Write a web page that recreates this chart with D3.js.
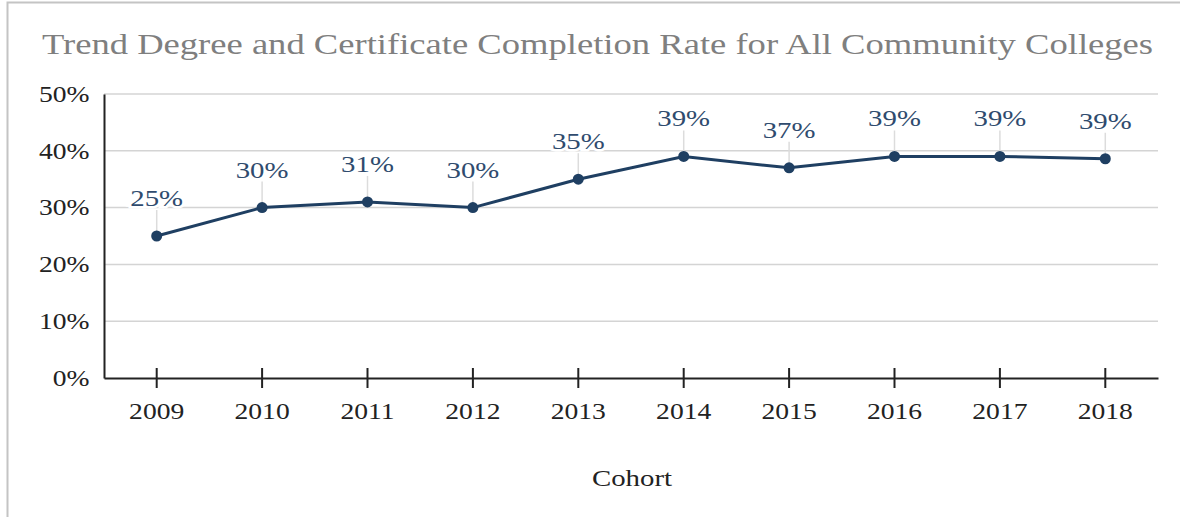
<!DOCTYPE html>
<html>
<head>
<meta charset="utf-8">
<script src="https://cdn.jsdelivr.net/npm/d3@7"></script>
<style>
  body { margin: 0; background: #fff; }
  svg { display: block; font-family: "Liberation Serif", "Times New Roman", serif; }
</style>
</head>
<body>
<svg id="chart" width="1180" height="517"></svg>
<script>
const years = ["2009", "2010", "2011", "2012", "2013", "2014", "2015", "2016", "2017", "2018"];
const rates = [25, 30, 31, 30, 35, 39, 37, 39, 39, 38.6];
const rateLabels = ["25%", "30%", "31%", "30%", "35%", "39%", "37%", "39%", "39%", "39%"];
const yTicks = [0, 10, 20, 30, 40, 50];

const svg = d3.select("#chart");
const margin = {top: 94, right: 22, bottom: 139, left: 104};
const W = 1180, H = 517;
// the source picture is stretched sideways, so text gets widened a bit
const sx = 1.2;

// frame
svg.append("path")
    .attr("d", "M7.5,517 V2.5 H1180")
    .style("fill", "none")
    .style("stroke", "#c4c4c4")
    .style("stroke-width", 2);

const x = d3.scaleBand()
    .domain(years)
    .range([margin.left, W - margin.right]);

const y = d3.scaleLinear()
    .domain([0, 50])
    .range([H - margin.bottom, margin.top]);

function wideText(g, px, py, str) {
    return g.append("text")
        .attr("transform", `translate(${px},${py}) scale(${sx},1)`)
        .attr("text-anchor", "middle")
        .text(str);
}

// title
wideText(svg, (38 + 1157) / 2, 54, "Trend Degree and Certificate Completion Rate for All Community Colleges")
    .style("font-size", "30.5px")
    .style("fill", "#7f7f7f");

// grid
svg.append("g")
    .selectAll("line")
    .data(yTicks.filter(d => d > 0))
    .join("line")
    .attr("x1", margin.left)
    .attr("x2", W - margin.right)
    .attr("y1", d => y(d))
    .attr("y2", d => y(d))
    .style("stroke", "#d4d4d4")
    .style("stroke-width", 1.5);

// y axis
const yAxis = svg.append("g")
    .attr("transform", `translate(${margin.left},0)`)
    .call(d3.axisLeft(y).tickValues(yTicks).tickFormat(d => d + "%").tickSize(0).tickPadding(12));
yAxis.select(".domain").style("stroke", "#222").style("stroke-width", 2);
yAxis.selectAll("text")
    .attr("transform", `scale(${sx},1)`)
    .style("font-family", "Liberation Serif, serif")
    .style("font-size", "23px")
    .style("fill", "#222");

// x axis
const xAxis = svg.append("g")
    .attr("transform", `translate(0,${y(0)})`)
    .call(d3.axisBottom(x).tickSizeInner(10).tickSizeOuter(0).tickPadding(15));
xAxis.select(".domain").style("stroke", "#222").style("stroke-width", 2);
xAxis.selectAll(".tick line")
    .attr("y1", -10)
    .attr("y2", 10)
    .style("stroke", "#222")
    .style("stroke-width", 2);
xAxis.selectAll("text")
    .attr("transform", `scale(${sx},1)`)
    .style("font-family", "Liberation Serif, serif")
    .style("font-size", "23px")
    .style("fill", "#222");

// axis title
wideText(svg, 632, 486, "Cohort")
    .style("font-size", "24px")
    .style("fill", "#222");

const cx = d => x(d) + x.bandwidth() / 2;
const pts = years.map((d, i) => ({year: d, v: rates[i], label: rateLabels[i]}));

// leader lines
svg.append("g")
    .selectAll("line")
    .data(pts)
    .join("line")
    .attr("x1", d => cx(d.year))
    .attr("x2", d => cx(d.year))
    .attr("y1", d => y(d.v) - 26)
    .attr("y2", d => y(d.v))
    .style("stroke", "#dcdcdc")
    .style("stroke-width", 1.5);

// labels with white halo
svg.append("g")
    .selectAll("text")
    .data(pts)
    .join("text")
    .attr("transform", d => `translate(${cx(d.year)},${y(d.v) - 30}) scale(${sx},1)`)
    .attr("text-anchor", "middle")
    .style("font-size", "24px")
    .style("fill", "#2f4b6e")
    .style("stroke", "#fff")
    .style("stroke-width", 5)
    .style("paint-order", "stroke")
    .text(d => d.label);

// line
const line = d3.line()
    .x(d => cx(d.year))
    .y(d => y(d.v));

svg.append("path")
    .datum(pts)
    .attr("d", line)
    .style("fill", "none")
    .style("stroke", "#1f3f62")
    .style("stroke-width", 3);

svg.append("g")
    .selectAll("circle")
    .data(pts)
    .join("circle")
    .attr("cx", d => cx(d.year))
    .attr("cy", d => y(d.v))
    .attr("r", 5.5)
    .style("fill", "#1f3f62");
</script>
</body>
</html>
